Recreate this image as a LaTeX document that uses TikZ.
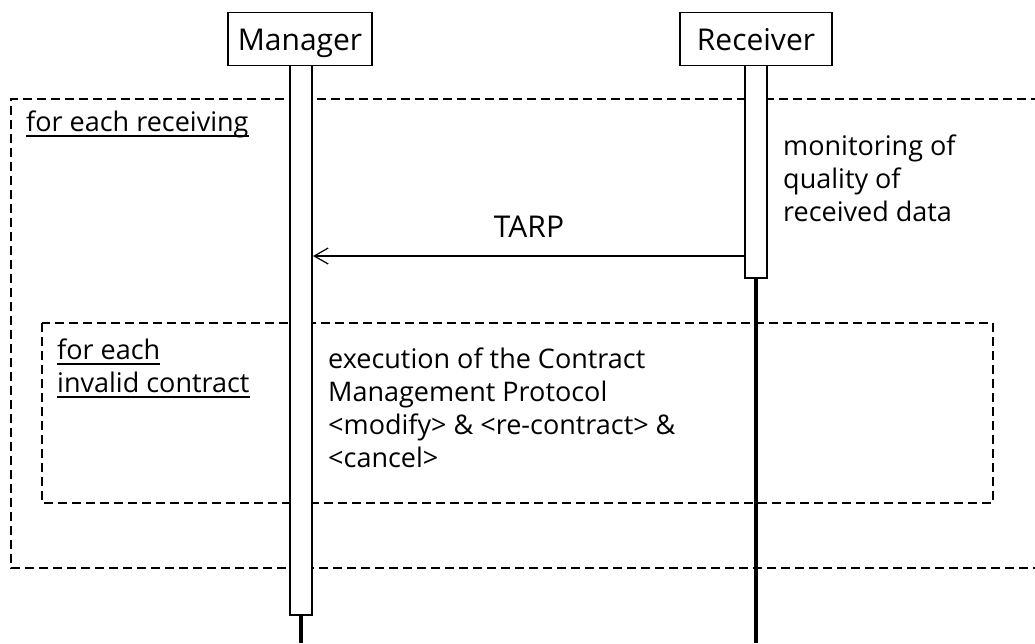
\documentclass[tikz,border=0pt]{standalone}
\usepackage{fontspec}
\setmainfont{Open Sans}
\usetikzlibrary{arrows.meta}
\begin{document}
\begin{tikzpicture}[x=1pt,y=-1pt,
  actor/.style={draw,line width=1.4pt,fill=white,inner sep=0pt,minimum height=53pt,text height=25pt,text depth=3pt,font=\fontsize{30}{34}\selectfont},
  act/.style={draw,line width=1.4pt,fill=white},
  frame/.style={draw,line width=1.4pt,dash pattern=on 9pt off 5pt},
  life/.style={line width=4pt},
  txt/.style={inner sep=0pt,anchor=base west,font=\fontsize{27}{33}\selectfont,align=left},
  lbl/.style={inner sep=0pt,anchor=base west,font=\fontsize{27}{33}\selectfont},
  uline/.style={line width=1.4pt}]
\useasboundingbox (0,0) rectangle (1035,643);
% frames
\draw[frame] (1040,99) -- (11,99) -- (11,568) -- (1040,568);
\draw[frame] (42,323) rectangle (993,503);
% lifelines
\draw[life] (301,610) -- (301,643);
\draw[life] (756,270) -- (756,643);
% activations
\draw[act] (290,62) rectangle (312,615);
\draw[act] (745,62) rectangle (767,278);
% actors
\node[actor,minimum width=144pt] (mgr) at (300,39) {Manager};
\node[actor,minimum width=152pt] (rcv) at (756,39) {Receiver};
\coordinate (tarps) at (745,256);
\coordinate (tarpe) at (313,256);
\draw[line width=1.2pt,-{Straight Barb[length=14pt,width=16pt]}] (tarps) -- node[above=18pt,inner sep=0pt,font=\fontsize{30}{34}\selectfont] {TARP} (tarpe);
% frame labels
\node[lbl] (l1) at (26,131) {for each receiving};
\draw[uline] ([yshift=-5pt]l1.base west) -- ([yshift=-5pt]l1.base east);
\node[lbl] (l2) at (57,359) {for each};
\draw[uline] ([yshift=-5pt]l2.base west) -- ([yshift=-5pt]l2.base east);
\node[lbl] (l3) at (57,392) {invalid contract};
\draw[uline] ([yshift=-5pt]l3.base west) -- ([yshift=-5pt]l3.base east);
% notes
\node[txt] (mon) at (783,221) {monitoring of\\quality of\\received data};
\node[txt] (cmp) at (328,467) {execution of the Contract\\Management Protocol\\<modify> \& <re-contract> \&\\<cancel>};
\end{tikzpicture}
\end{document}
